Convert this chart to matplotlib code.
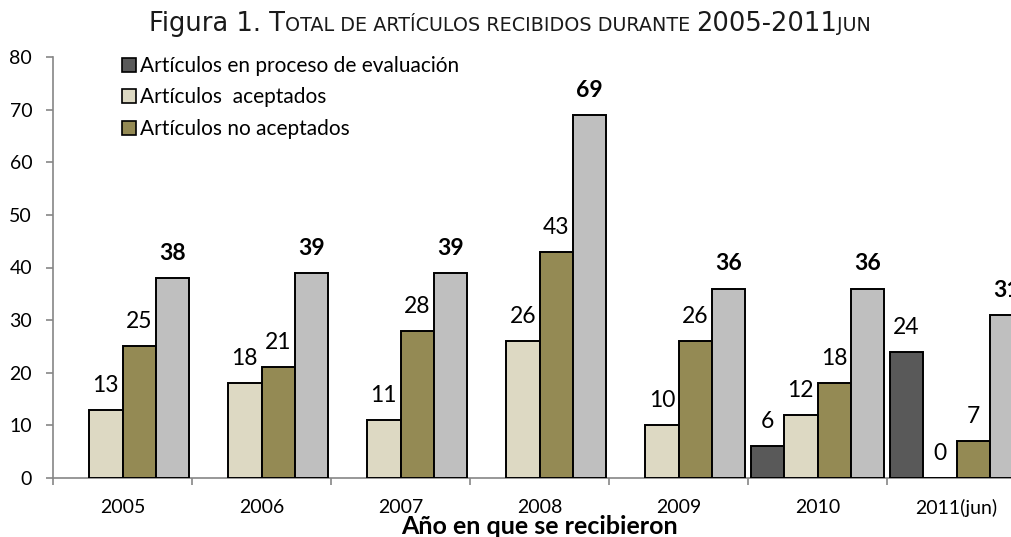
import matplotlib
matplotlib.use("Agg")
import matplotlib.pyplot as plt
import numpy as np
from matplotlib.patches import Patch
from matplotlib.offsetbox import TextArea, HPacker, AnchoredOffsetbox

years = ["2005", "2006", "2007", "2008", "2009", "2010", "2011(jun)"]
en_proceso = [None, None, None, None, None, 6, 24]
aceptados = [13, 18, 11, 26, 10, 12, 0]
no_aceptados = [25, 21, 28, 43, 26, 18, 7]
total = [38, 39, 39, 69, 36, 36, 31]

series = [
    ("Artículos en proceso de evaluación", en_proceso, "#595959"),
    ("Artículos  aceptados", aceptados, "#DDD9C3"),
    ("Artículos no aceptados", no_aceptados, "#948A54"),
    ("Total", total, "#BFBFBF"),
]

plt.rcParams['font.family'] = ['Lato', 'DejaVu Sans']

W, H = 1011, 537
fig = plt.figure(figsize=(W / 100, H / 100), dpi=100)
# axes run past the right edge of the figure, as in the original
ax = fig.add_axes([53 / W, (H - 478) / H, (1026 - 53) / W, (478 - 57) / H])

x = np.arange(len(years))
width = 0.24
for k, (name, vals, color) in enumerate(series):
    pos = x + (k - 1.5) * width
    for xi, v in zip(pos, vals):
        if v is None:
            continue
        ax.bar(xi, v, width, color=color, edgecolor="black", linewidth=1.4, zorder=3)
        bold = (k == 3)
        ax.annotate(str(v), (xi, v), xytext=(0, 13), textcoords="offset points",
                    ha="center", va="baseline", fontsize=16.5,
                    fontweight="bold" if bold else "normal", annotation_clip=False)

ax.set_xlim(-0.5, len(years) - 0.5)
ax.set_ylim(0, 80)
ax.set_yticks(range(0, 81, 10))
ax.set_xticks(x)
ax.set_xticklabels(years)
ax.set_xticks(np.arange(-0.5, len(years)), minor=True)

for s in ["top", "right"]:
    ax.spines[s].set_visible(False)
for s in ["left", "bottom"]:
    ax.spines[s].set_color("#868686")
    ax.spines[s].set_linewidth(1.2)

ax.tick_params(axis="y", direction="out", length=5, width=1.2, color="#868686",
               labelsize=14, pad=10)
ax.tick_params(axis="x", which="major", length=0, labelsize=14, pad=15)
ax.tick_params(axis="x", which="minor", direction="out", length=5, width=1.2,
               color="#868686")

ax.set_xlabel("Año en que se recibieron", fontsize=18, fontweight="bold", va="top")
ax.xaxis.set_label_coords(0.5, (478 - 515) / (478 - 57))

handles = [Patch(facecolor=c, edgecolor="black", linewidth=1.2) for _, _, c in series[:3]]
labels = [n for n, _, _ in series[:3]]
fig.legend(handles, labels, loc="upper left", bbox_to_anchor=(122 / W, 1 - 56 / H),
           frameon=False, fontsize=15, handlelength=0.65, handleheight=0.65,
           handletextpad=0.2, labelspacing=0.55, borderpad=0, borderaxespad=0)

# title with small caps
big, small = 18.5, 13.8
parts = [("Figura 1. T", big), ("OTAL DE ARTÍCULOS RECIBIDOS DURANTE ", small),
         ("2005-2011", big), ("JUN", small)]
boxes = [TextArea(t, textprops=dict(fontsize=s, family="DejaVu Sans", color="#1a1a1a"))
         for t, s in parts]
title = HPacker(children=boxes, align="baseline", pad=0, sep=0)
fig.add_artist(AnchoredOffsetbox(loc="center", child=title, frameon=False, pad=0,
                                 borderpad=0, bbox_to_anchor=(510 / W, 1 - 24 / H),
                                 bbox_transform=fig.transFigure))

fig.savefig("out.png", dpi=100)
